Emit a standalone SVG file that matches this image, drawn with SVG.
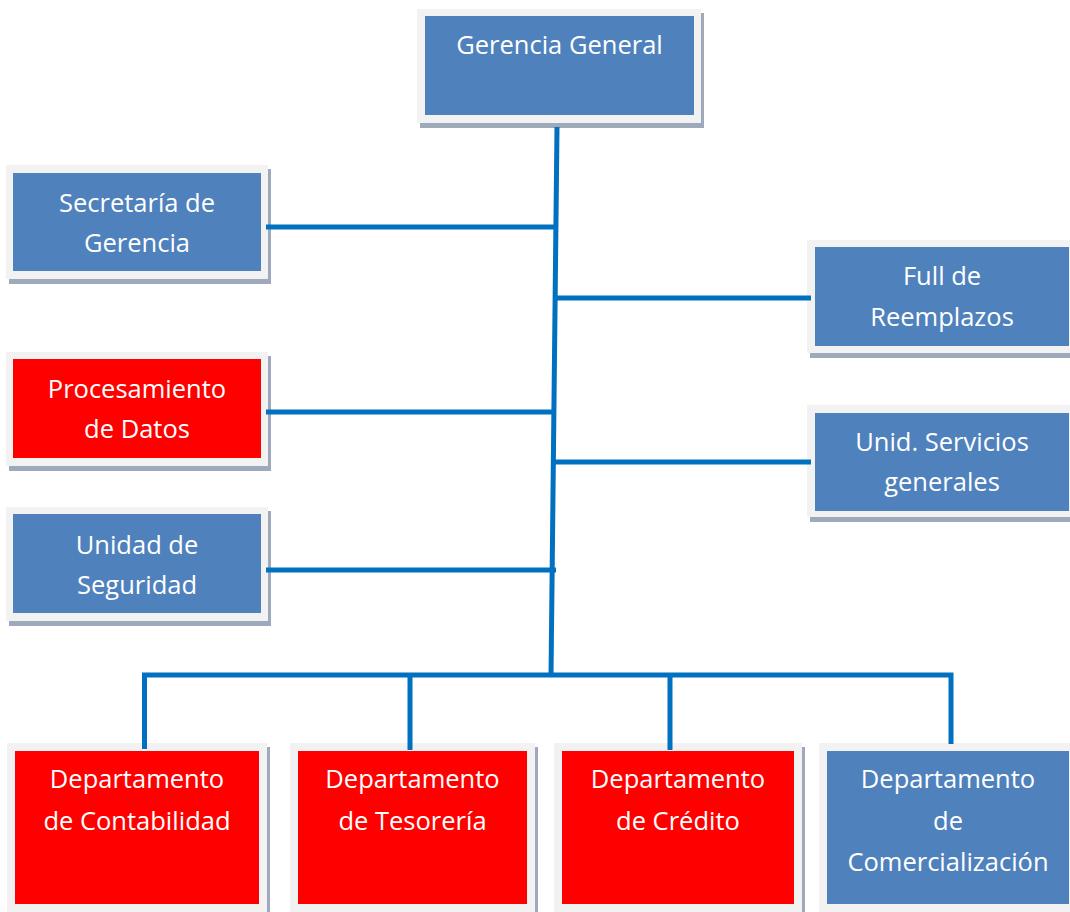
<svg xmlns="http://www.w3.org/2000/svg" width="1070" height="912" viewBox="0 0 1070 912">
  <style>
    .shadow { fill: #9eaabb; }
    .frame { fill: #f2f2f2; }
    .blue { fill: #4f81bd; }
    .red { fill: #ff0000; }
    .label { font-family: "Open Sans", "Noto Sans", sans-serif; font-size: 25.5px; fill: #ffffff; text-anchor: middle; }
    .link { stroke: #0070c0; stroke-width: 5; fill: none; stroke-linecap: butt; stroke-linejoin: miter; }
  </style>
  <rect width="1070" height="912" fill="#ffffff"/>

  <!-- top level -->
  <g id="gerencia-general">
    <rect class="shadow" x="420" y="13" width="284" height="115"/>
    <rect class="frame" x="417" y="9" width="284" height="114"/>
    <rect class="blue" x="425" y="16" width="269" height="99"/>
    <text class="label" x="559.5" y="54">Gerencia General</text>
  </g>

  <!-- staff units, left side -->
  <g id="secretaria-gerencia">
    <rect class="shadow" x="9" y="169" width="262" height="115"/>
    <rect class="frame" x="6" y="165" width="262" height="114"/>
    <rect class="blue" x="13" y="173" width="248" height="98"/>
    <text class="label" x="137" y="212">Secretaría de</text>
    <text class="label" x="137" y="252">Gerencia</text>
  </g>

  <g id="procesamiento-datos">
    <rect class="shadow" x="9" y="356" width="262" height="115"/>
    <rect class="frame" x="6" y="352" width="262" height="114"/>
    <rect class="red" x="13" y="359" width="248" height="99"/>
    <text class="label" x="137" y="398">Procesamiento</text>
    <text class="label" x="137" y="438">de Datos</text>
  </g>

  <g id="unidad-seguridad">
    <rect class="shadow" x="9" y="511" width="262" height="115"/>
    <rect class="frame" x="6" y="507" width="262" height="114"/>
    <rect class="blue" x="13" y="514" width="248" height="99"/>
    <text class="label" x="137" y="554">Unidad de</text>
    <text class="label" x="137" y="594">Seguridad</text>
  </g>

  <!-- staff units, right side -->
  <g id="full-reemplazos">
    <rect class="shadow" x="810" y="244" width="270" height="114"/>
    <rect class="frame" x="807" y="240" width="270" height="113"/>
    <rect class="blue" x="815" y="247" width="254" height="99"/>
    <text class="label" x="942" y="285">Full de</text>
    <text class="label" x="942" y="326">Reemplazos</text>
  </g>

  <g id="servicios-generales">
    <rect class="shadow" x="810" y="409" width="270" height="113"/>
    <rect class="frame" x="807" y="405" width="270" height="112"/>
    <rect class="blue" x="815" y="413" width="254" height="98"/>
    <text class="label" x="942" y="451">Unid. Servicios</text>
    <text class="label" x="942" y="491">generales</text>
  </g>

  <!-- departments -->
  <g id="dep-contabilidad">
    <rect class="shadow" x="10" y="747" width="260" height="180"/>
    <rect class="frame" x="7" y="743" width="260" height="180"/>
    <rect class="red" x="15" y="751" width="244" height="153"/>
    <text class="label" x="137" y="788">Departamento</text>
    <text class="label" x="137" y="830">de Contabilidad</text>
  </g>

  <g id="dep-tesoreria">
    <rect class="shadow" x="293" y="747" width="245" height="180"/>
    <rect class="frame" x="290" y="743" width="245" height="180"/>
    <rect class="red" x="298" y="751" width="229" height="153"/>
    <text class="label" x="412.5" y="788">Departamento</text>
    <text class="label" x="412.5" y="830">de Tesorería</text>
  </g>

  <g id="dep-credito">
    <rect class="shadow" x="557" y="747" width="248" height="180"/>
    <rect class="frame" x="554" y="743" width="248" height="180"/>
    <rect class="red" x="562" y="751" width="232" height="153"/>
    <text class="label" x="678" y="788">Departamento</text>
    <text class="label" x="678" y="830">de Crédito</text>
  </g>

  <g id="dep-comercializacion">
    <rect class="shadow" x="822" y="747" width="260" height="180"/>
    <rect class="frame" x="819" y="743" width="260" height="180"/>
    <rect class="blue" x="827" y="751" width="242" height="153"/>
    <text class="label" x="948" y="788">Departamento</text>
    <text class="label" x="948" y="830">de</text>
    <text class="label" x="948" y="871">Comercialización</text>
  </g>

  <!-- connectors, drawn over the box shadows -->
  <g id="connectors">
    <line class="link" x1="557" y1="127" x2="551" y2="677"/>
    <line class="link" x1="266" y1="227" x2="556" y2="227"/>
    <line class="link" x1="557" y1="298" x2="811" y2="298"/>
    <line class="link" x1="266" y1="412" x2="555" y2="412"/>
    <line class="link" x1="554" y1="462" x2="811" y2="462"/>
    <line class="link" x1="266" y1="570" x2="556" y2="570"/>
    <polyline class="link" points="144.5,749 144.5,675 951,675 951,744"/>
    <line class="link" x1="410" y1="675" x2="410" y2="750"/>
    <line class="link" x1="670" y1="675" x2="670" y2="750"/>
  </g>
</svg>
